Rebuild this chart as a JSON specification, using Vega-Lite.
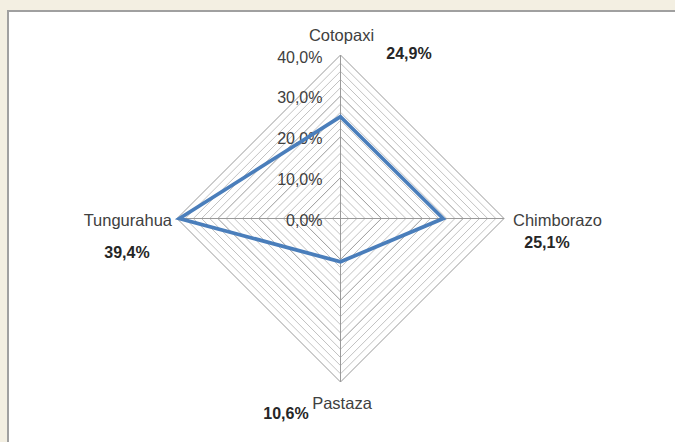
{
  "$schema": "https://vega.github.io/schema/vega-lite/v6.json",
  "autosize": "none",
  "padding": {"left": 8, "top": 11, "right": 0, "bottom": 0},
  "width": 670,
  "height": 434,
  "background": "#F3EFE2",
  "config": {
    "view": {"fill": "white", "stroke": "#A0A0A0", "strokeWidth": 2},
    "locale": {"number": {"decimal": ",", "thousands": ".", "grouping": [3], "currency": ["", " €"]}},
    "text": {"font": "Liberation Sans"}
  },
  "datasets": {
    "regions": [
      {"region": "Cotopaxi", "value": 0.249, "order": 0},
      {"region": "Chimborazo", "value": 0.251, "order": 1},
      {"region": "Pastaza", "value": 0.106, "order": 2},
      {"region": "Tungurahua", "value": 0.394, "order": 3}
    ],
    "rings": [
      {"ring": 0.02}, {"ring": 0.04}, {"ring": 0.06}, {"ring": 0.08}, {"ring": 0.10},
      {"ring": 0.12}, {"ring": 0.14}, {"ring": 0.16}, {"ring": 0.18}, {"ring": 0.20},
      {"ring": 0.22}, {"ring": 0.24}, {"ring": 0.26}, {"ring": 0.28}, {"ring": 0.30},
      {"ring": 0.32}, {"ring": 0.34}, {"ring": 0.36}, {"ring": 0.38}, {"ring": 0.40}
    ],
    "ticks": [
      {"tick": 0}, {"tick": 0.1}, {"tick": 0.2}, {"tick": 0.3}, {"tick": 0.4}
    ]
  },
  "layer": [
    {
      "data": {"name": "rings"},
      "mark": {"type": "point", "shape": "diamond", "filled": false, "strokeWidth": 1, "opacity": 1},
      "encoding": {
        "x": {"datum": 0, "type": "quantitative", "scale": {"domain": [-0.81346, 0.82569], "nice": false, "zero": false}, "axis": null},
        "y": {"datum": 0, "type": "quantitative", "scale": {"domain": [-0.55413, 0.50765], "nice": false, "zero": false}, "axis": null},
        "size": {"field": "ring", "type": "quantitative", "scale": {"type": "pow", "exponent": 2, "domain": [0, 0.4], "range": [0, 106929], "zero": true}, "legend": null},
        "stroke": {"condition": {"test": "round(datum.ring * 100) % 10 === 0", "value": "#9A9A9A"}, "value": "#C2C2C2"}
      }
    },
    {
      "data": {"name": "ticks"},
      "transform": [{"filter": "datum.tick === 0"}],
      "mark": {"type": "rule", "stroke": "#9A9A9A", "strokeWidth": 1},
      "encoding": {
        "x": {"datum": 0, "type": "quantitative", "scale": {"domain": [-0.81346, 0.82569], "nice": false, "zero": false}, "axis": null},
        "y": {"datum": -0.4, "type": "quantitative", "scale": {"domain": [-0.55413, 0.50765], "nice": false, "zero": false}, "axis": null},
        "y2": {"datum": 0.4}
      }
    },
    {
      "data": {"name": "ticks"},
      "transform": [{"filter": "datum.tick === 0"}],
      "mark": {"type": "rule", "stroke": "#9A9A9A", "strokeWidth": 1},
      "encoding": {
        "x": {"datum": -0.4, "type": "quantitative", "scale": {"domain": [-0.81346, 0.82569], "nice": false, "zero": false}, "axis": null},
        "x2": {"datum": 0.4},
        "y": {"datum": 0, "type": "quantitative", "scale": {"domain": [-0.55413, 0.50765], "nice": false, "zero": false}, "axis": null}
      }
    },
    {
      "data": {"name": "ticks"},
      "mark": {"type": "text", "align": "right", "baseline": "middle", "dx": -18, "dy": 2.5, "fontSize": 16, "color": "#404040", "font": "Liberation Sans"},
      "encoding": {
        "x": {"datum": 0, "type": "quantitative", "scale": {"domain": [-0.81346, 0.82569], "nice": false, "zero": false}, "axis": null},
        "y": {"field": "tick", "type": "quantitative", "scale": {"domain": [-0.55413, 0.50765], "nice": false, "zero": false}, "axis": null},
        "text": {"field": "tick", "type": "quantitative", "format": ".1%"}
      }
    },
    {
      "data": {"name": "regions"},
      "transform": [
        {"calculate": "datum.value * sin(datum.order * PI / 2)", "as": "px"},
        {"calculate": "datum.value * cos(datum.order * PI / 2)", "as": "py"}
      ],
      "mark": {"type": "line", "interpolate": "linear-closed", "stroke": "#4A7EBB", "strokeWidth": 3.75, "strokeJoin": "miter"},
      "encoding": {
        "x": {"field": "px", "type": "quantitative", "scale": {"domain": [-0.81346, 0.82569], "nice": false, "zero": false}, "axis": null},
        "y": {"field": "py", "type": "quantitative", "scale": {"domain": [-0.55413, 0.50765], "nice": false, "zero": false}, "axis": null},
        "order": {"field": "order", "type": "quantitative"}
      }
    },
    {
      "data": {"name": "regions"},
      "transform": [{"filter": "datum.region === 'Cotopaxi'"}],
      "mark": {"type": "text", "align": "center", "baseline": "middle", "dx": 1, "dy": -19, "fontSize": 16.5, "color": "#404040", "font": "Liberation Sans"},
      "encoding": {
        "x": {"datum": 0, "type": "quantitative", "scale": {"domain": [-0.81346, 0.82569], "nice": false, "zero": false}, "axis": null},
        "y": {"datum": 0.4, "type": "quantitative", "scale": {"domain": [-0.55413, 0.50765], "nice": false, "zero": false}, "axis": null},
        "text": {"field": "region", "type": "nominal"}
      }
    },
    {
      "data": {"name": "regions"},
      "transform": [{"filter": "datum.region === 'Chimborazo'"}],
      "mark": {"type": "text", "align": "left", "baseline": "middle", "dx": 9, "dy": 2.5, "fontSize": 16.5, "color": "#404040", "font": "Liberation Sans"},
      "encoding": {
        "x": {"datum": 0.4, "type": "quantitative", "scale": {"domain": [-0.81346, 0.82569], "nice": false, "zero": false}, "axis": null},
        "y": {"datum": 0, "type": "quantitative", "scale": {"domain": [-0.55413, 0.50765], "nice": false, "zero": false}, "axis": null},
        "text": {"field": "region", "type": "nominal"}
      }
    },
    {
      "data": {"name": "regions"},
      "transform": [{"filter": "datum.region === 'Pastaza'"}],
      "mark": {"type": "text", "align": "center", "baseline": "middle", "dx": 1.5, "dy": 22.5, "fontSize": 16.5, "color": "#404040", "font": "Liberation Sans"},
      "encoding": {
        "x": {"datum": 0, "type": "quantitative", "scale": {"domain": [-0.81346, 0.82569], "nice": false, "zero": false}, "axis": null},
        "y": {"datum": -0.4, "type": "quantitative", "scale": {"domain": [-0.55413, 0.50765], "nice": false, "zero": false}, "axis": null},
        "text": {"field": "region", "type": "nominal"}
      }
    },
    {
      "data": {"name": "regions"},
      "transform": [{"filter": "datum.region === 'Tungurahua'"}],
      "mark": {"type": "text", "align": "right", "baseline": "middle", "dx": -5, "dy": 2.5, "fontSize": 16.5, "color": "#404040", "font": "Liberation Sans"},
      "encoding": {
        "x": {"datum": -0.4, "type": "quantitative", "scale": {"domain": [-0.81346, 0.82569], "nice": false, "zero": false}, "axis": null},
        "y": {"datum": 0, "type": "quantitative", "scale": {"domain": [-0.55413, 0.50765], "nice": false, "zero": false}, "axis": null},
        "text": {"field": "region", "type": "nominal"}
      }
    },
    {
      "data": {"name": "regions"},
      "transform": [{"filter": "datum.region === 'Cotopaxi'"}],
      "mark": {"type": "text", "align": "center", "baseline": "middle", "dx": 68.5, "dy": -1, "fontSize": 16, "fontWeight": "bold", "color": "#262626", "font": "Liberation Sans"},
      "encoding": {
        "x": {"datum": 0, "type": "quantitative", "scale": {"domain": [-0.81346, 0.82569], "nice": false, "zero": false}, "axis": null},
        "y": {"datum": 0.4, "type": "quantitative", "scale": {"domain": [-0.55413, 0.50765], "nice": false, "zero": false}, "axis": null},
        "text": {"field": "value", "type": "quantitative", "format": ".1%"}
      }
    },
    {
      "data": {"name": "regions"},
      "transform": [{"filter": "datum.region === 'Chimborazo'"}],
      "mark": {"type": "text", "align": "center", "baseline": "middle", "dx": 43, "dy": 24.5, "fontSize": 16, "fontWeight": "bold", "color": "#262626", "font": "Liberation Sans"},
      "encoding": {
        "x": {"datum": 0.4, "type": "quantitative", "scale": {"domain": [-0.81346, 0.82569], "nice": false, "zero": false}, "axis": null},
        "y": {"datum": 0, "type": "quantitative", "scale": {"domain": [-0.55413, 0.50765], "nice": false, "zero": false}, "axis": null},
        "text": {"field": "value", "type": "quantitative", "format": ".1%"}
      }
    },
    {
      "data": {"name": "regions"},
      "transform": [{"filter": "datum.region === 'Pastaza'"}],
      "mark": {"type": "text", "align": "center", "baseline": "middle", "dx": -54.5, "dy": 32, "fontSize": 16, "fontWeight": "bold", "color": "#262626", "font": "Liberation Sans"},
      "encoding": {
        "x": {"datum": 0, "type": "quantitative", "scale": {"domain": [-0.81346, 0.82569], "nice": false, "zero": false}, "axis": null},
        "y": {"datum": -0.4, "type": "quantitative", "scale": {"domain": [-0.55413, 0.50765], "nice": false, "zero": false}, "axis": null},
        "text": {"field": "value", "type": "quantitative", "format": ".1%"}
      }
    },
    {
      "data": {"name": "regions"},
      "transform": [{"filter": "datum.region === 'Tungurahua'"}],
      "mark": {"type": "text", "align": "center", "baseline": "middle", "dx": -50, "dy": 34.5, "fontSize": 16, "fontWeight": "bold", "color": "#262626", "font": "Liberation Sans"},
      "encoding": {
        "x": {"datum": -0.4, "type": "quantitative", "scale": {"domain": [-0.81346, 0.82569], "nice": false, "zero": false}, "axis": null},
        "y": {"datum": 0, "type": "quantitative", "scale": {"domain": [-0.55413, 0.50765], "nice": false, "zero": false}, "axis": null},
        "text": {"field": "value", "type": "quantitative", "format": ".1%"}
      }
    }
  ]
}
